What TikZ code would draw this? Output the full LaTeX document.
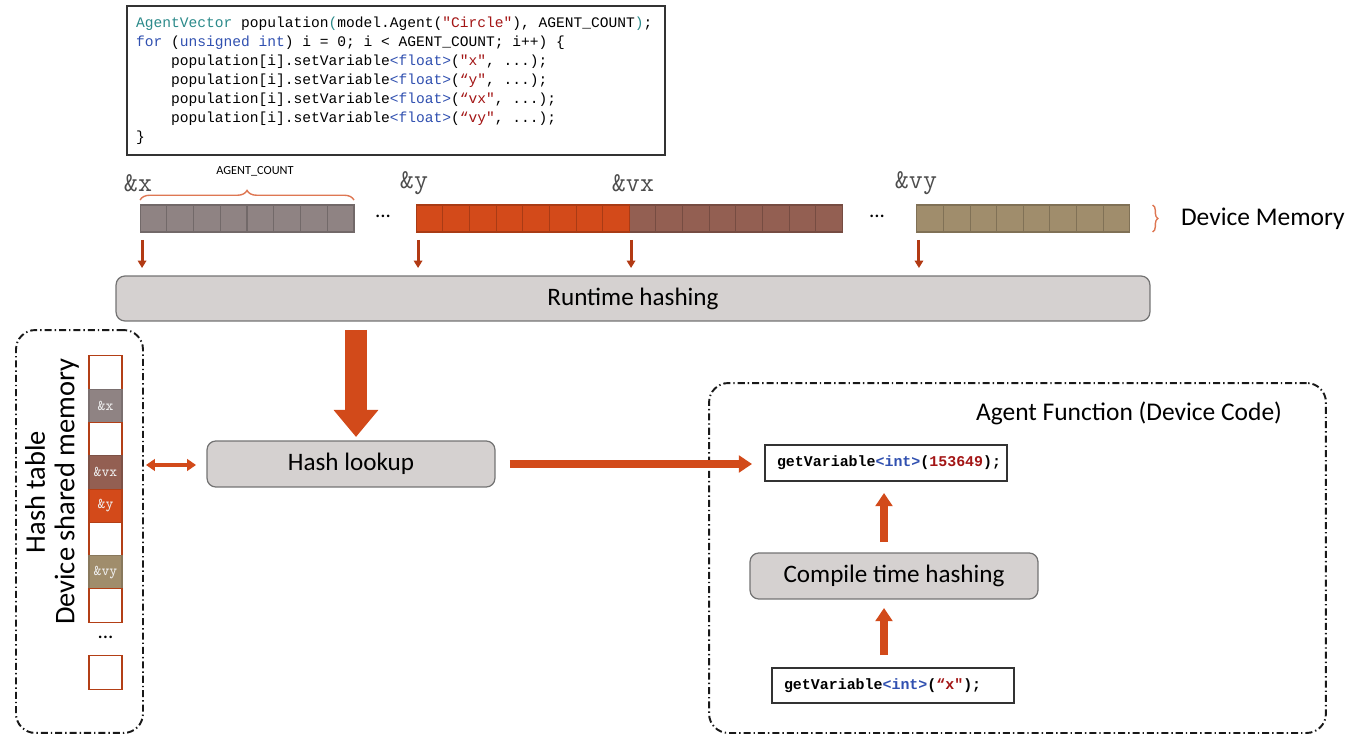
\documentclass[tikz,border=0pt]{standalone}
\usepackage{fontspec}
\setmainfont{Carlito}
\newfontfamily\codefont{Liberation Mono}
\newcommand\ws{\hspace{0.6em}}
\usetikzlibrary{positioning,arrows.meta,decorations.pathreplacing,calc}

\definecolor{xgray}{HTML}{8F8383}
\definecolor{yorange}{HTML}{D34A1A}
\definecolor{vxbrown}{HTML}{935F52}
\definecolor{vyolive}{HTML}{A08D6C}
\definecolor{boxfill}{HTML}{D5D1D0}
\definecolor{arrowred}{HTML}{D24A1A}
\definecolor{darkarrow}{HTML}{B23A14}
\definecolor{kwblue}{HTML}{3050B0}
\definecolor{typeteal}{HTML}{2B8A8A}
\definecolor{strred}{HTML}{A31515}

\begin{document}
\begin{tikzpicture}[
    x=0.02cm, y=-0.02cm,
    every node/.style={inner sep=0pt, outer sep=0pt},
    mem/.style={draw=#1!80!black, fill=#1, line width=0.6pt, minimum width=0.534cm, minimum height=0.54cm},
    slot/.style={fill=white, line width=0.6pt, minimum width=0.66cm, minimum height=0.666cm, font=\ttfamily\fontsize{8.5}{10}\selectfont, text=white!88!gray},
    proc/.style={draw=black!55, fill=boxfill, rounded corners=5pt, line width=0.7pt, font=\fontsize{14.3}{17}\selectfont},
    code/.style={draw=black!80, fill=white, line width=0.7pt, align=left, inner xsep=0.24cm, font=\codefont\bfseries\fontsize{8.5}{10}\selectfont},
    addr/.style={font=\ttfamily\fontsize{15.5}{18}\selectfont, text=black!70},
    dots/.style={font=\fontsize{12}{14}\selectfont},
    frame/.style={draw=black!90, line width=1.1pt, rounded corners=11pt, dash pattern=on 4pt off 1.7pt on 0.8pt off 1.7pt},
    mark brace/.style={decorate, draw=yorange!75, line width=0.8pt},
    smallarr/.style={draw=darkarrow, line width=1.7pt, -{Triangle[length=4.2pt,width=4.8pt]}},
    medarr/.style={draw=arrowred, line width=4.5pt, -{Triangle[length=7.5pt,width=9.5pt]}},
    dblarr/.style={draw=arrowred, line width=2.8pt, {Triangle[length=5pt,width=6.5pt]}-{Triangle[length=5pt,width=6.5pt]}},
    bigarr/.style={draw=arrowred, line width=12.5pt, -{Triangle[length=15.4pt,width=24.5pt]}}
]
\useasboundingbox (0,0) rectangle (1359,736);

\node[frame, minimum width=2.54cm, minimum height=8.06cm] (htframe) at (79.5,531.5) {};
\node[frame, minimum width=12.34cm, minimum height=7cm] (afframe) at (1017.5,558) {};

\node[draw=black!80, fill=white, line width=0.7pt, minimum width=10.76cm, minimum height=2.98cm,
      inner xsep=0.18cm, text width=10.4cm, align=left, font=\codefont\fontsize{8.3}{10.8}\selectfont] (src) at (396,80.5)
{\textcolor{typeteal}{AgentVector}\ws population\textcolor{typeteal}{(}model.Agent(\textcolor{strred}{"Circle"}),\ws AGENT\_COUNT\textcolor{typeteal}{)};\\
\textcolor{kwblue}{for}\ws(\textcolor{kwblue}{unsigned\ws int})\ws i\ws=\ws0;\ws i\ws<\ws AGENT\_COUNT;\ws i++)\ws\{\\
\hphantom{1234}population[i].setVariable\textcolor{kwblue}{<float>}(\textcolor{strred}{"x"},\ws...);\\
\hphantom{1234}population[i].setVariable\textcolor{kwblue}{<float>}(\textcolor{strred}{“y"},\ws...);\\
\hphantom{1234}population[i].setVariable\textcolor{kwblue}{<float>}(\textcolor{strred}{“vx"},\ws...);\\
\hphantom{1234}population[i].setVariable\textcolor{kwblue}{<float>}(\textcolor{strred}{“vy"},\ws...);\\
\}};

\foreach \i in {0,...,7} {
    \node[mem=xgray] (x\i) at (153.4+26.75*\i,218.5) {};
    \node[mem=yorange] (y\i) at (429.4+26.7*\i,218.5) {};
    \node[mem=vxbrown] (vx\i) at (642.4+26.7*\i,218.5) {};
    \node[mem=vyolive] (vy\i) at (930.3+26.6*\i,218.5) {};
}
\node[dots] (gap1) at (383,216) {...};
\node[dots] (gap2) at (877,216) {...};

\node[addr] (lx) at (138,183) {\&x};
\node[addr] (ly) at (414,183) {\&y};
\node[addr] (lvx) at (633,183) {\&vx};
\node[addr] (lvy) at (916,183) {\&vy};

\draw[mark brace, decoration={brace, amplitude=5.5pt, raise=2.8pt}] (x0.north west) -- (x7.north east);
\node[font=\fontsize{7}{8}\selectfont] (count) at (255,171) {AGENT\_COUNT};
\draw[mark brace, decoration={brace, amplitude=3pt, raise=13pt}] (vy7.north east) -- (vy7.south east);
\node[font=\fontsize{14.5}{17}\selectfont, anchor=west] (devmem) at (1181,219) {Device Memory};

\node[proc, minimum width=20.68cm, minimum height=0.9cm] (rt) at (633,298.5) {Runtime hashing};
\node[proc, minimum width=5.76cm, minimum height=0.92cm] (hl) at (351,464) {Hash lookup};

\foreach \c in {x0,y0,vx0,vy0}
    \draw[smallarr] ($(\c.south west)+(2,8)$) -- ($(\c.south west |- rt.north)+(2,-8)$);
\draw[bigarr] ($(hl.north |- rt.south)+(5,9)$) -- ($(hl.north)+(5,-4)$);

\node[rotate=90, align=center, font=\fontsize{16.2}{16.8}\selectfont] (htlabel) at (52,492) {Hash table\\Device shared memory};
\foreach \b/\c/\t [count=\i from 0] in {yorange/white/, xgray/xgray/\&x, yorange/white/, vxbrown/vxbrown/\&vx,
        yorange/yorange/\&y, yorange/white/, vyolive/vyolive/\&vy, yorange/white/}
    \node[slot, draw=\b!85!black, fill=\c] (s\i) at (105.5,372.5+33.3*\i) {\t};
\node[dots] (gap3) at (105.5,637) {...};
\node[slot, draw=yorange!85!black] (slast) at (105.5,672.5) {};

\draw[dblarr] ($(htframe.east |- hl.west)+(3,1)$) -- ($(hl.west)+(-11,1)$);

\node[font=\fontsize{14.5}{17}\selectfont] (aftitle) at (1129,413) {Agent Function (Device Code)};
\node[code, minimum width=4.84cm, minimum height=0.72cm, text width=4.36cm] (gv) at (886,463)
    {getVariable\textcolor{kwblue}{<int>}(\textcolor{strred}{153649});};
\node[proc, minimum width=5.76cm, minimum height=0.92cm] (ct) at (894,576) {Compile time hashing};
\node[code, minimum width=4.84cm, minimum height=0.7cm, text width=4.36cm] (gx) at (893,685.5)
    {getVariable\textcolor{kwblue}{<int>}(\textcolor{strred}{“x"});};

\draw[medarr] ($(hl.east)+(15,0)$) -- ($(gv.west |- hl.east)+(-13,0)$);
\draw[medarr] ($(ct.north)+(-10,-11)$) -- ($(ct.north |- gv.south)+(-10,12)$);
\draw[medarr] ($(gx.north)+(-9,-13)$) -- ($(gx.north |- ct.south)+(-9,9)$);

\end{tikzpicture}
\end{document}
